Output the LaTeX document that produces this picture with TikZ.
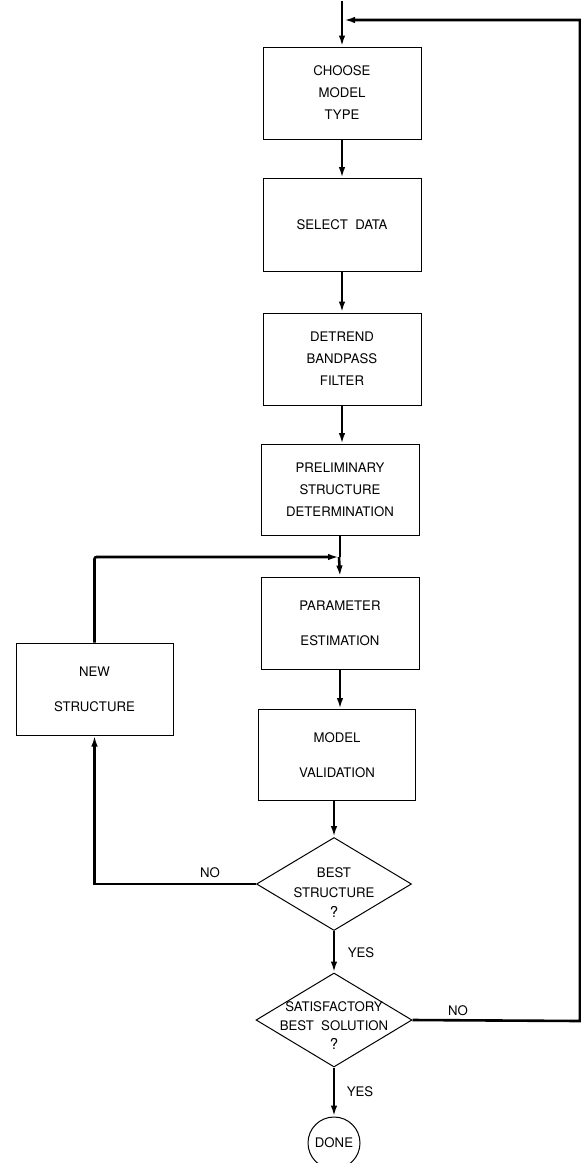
\documentclass[tikz,border=0pt]{standalone}
\usepackage{fontspec}
\setmainfont{TeX Gyre Heros}
\usetikzlibrary{shapes.geometric,arrows.meta}
\begin{document}
\begin{tikzpicture}[x=1pt,y=-1pt,
  box/.style={draw,line width=1pt,rectangle,minimum width=158pt,minimum height=92pt,inner sep=0pt,align=center},
  three/.style={font=\fontsize{13.2}{22}\selectfont},
  two/.style={font=\fontsize{13.2}{35}\selectfont},
  dia/.style={draw,line width=1pt,diamond,minimum width=155pt,minimum height=93pt,inner sep=0pt},
  dtxt/.style={align=center,inner sep=0pt,font=\fontsize{13.2}{20}\selectfont},
  lbl/.style={inner sep=0pt,font=\fontsize{13.2}{15}\selectfont},
  flow/.style={line width=2.6pt},
  arr/.style={line width=2.6pt,-{Latex[length=11pt,width=6.5pt]}}
]
\useasboundingbox (0,0) rectangle (581,1163);

\node[box,three] (b1) at (342,93) {CHOOSE\\MODEL\\TYPE};
\node[box,three,minimum height=93pt] (b2) at (342,225) {SELECT\ \ DATA};
\node[box,three] (b3) at (342,359) {DETREND\\BANDPASS\\FILTER};
\node[box,three,minimum height=91pt] (b4) at (340,490) {PRELIMINARY\\STRUCTURE\\DETERMINATION};
\node[box,two] (b5) at (340,623) {PARAMETER\\ESTIMATION};
\node[box,two,minimum width=157pt,minimum height=91pt] (b6) at (337,755) {MODEL\\VALIDATION};
\node[box,two,minimum width=157pt] (ns) at (94.5,689) {NEW\\STRUCTURE};

\node[dia] (d1) at (334,884) {};
\node[dtxt] (t1) at (334,893) {BEST\\STRUCTURE\\{\fontsize{15}{15}\selectfont ?}};
\node[dia,minimum width=156pt,minimum height=94pt] (d2) at (334,1020) {};
\node[dtxt,font=\fontsize{13.2}{19}\selectfont] (t2) at (334,1026) {SATISFACTORY\\BEST\ \ SOLUTION\\{\fontsize{15}{15}\selectfont ?}};
\node[draw,line width=1pt,circle,minimum size=52pt,inner sep=0pt,font=\fontsize{13.2}{15}\selectfont] (done) at (334,1143) {DONE};

\node[lbl] (no1) at (210,873) {NO};
\node[lbl] (yes1) at (361,953) {YES};
\node[lbl] (no2) at (458,1011) {NO};
\node[lbl] (yes2) at (360,1092) {YES};

\coordinate (top) at (342,1);
\coordinate (fbR) at (580,20);
\coordinate (fbL) at (344,20);
\coordinate (rb) at (580,1021);
\coordinate (join) at (339,557);

\draw[arr] (top) -- (b1.north);
\draw[arr] (b1.south) -- (b2.north);
\draw[arr] (b2.south) -- (b3.north);
\draw[arr] (b3.south) -- (b3.south |- b4.north);
\draw[flow] (b4.south) -- (b4.south |- join);
\draw[arr] (join) -- (b5.north);
\draw[arr] (b5.south) -- (b5.south |- b6.north);
\draw[arr] (d1.north |- b6.south) -- (d1.north);
\draw[arr] (d1.south) -- (d2.north);
\draw[arr] (d2.south) -- (done.north);

\draw[arr] (d2.east) -- (rb) -- (fbR) -- (fbL);
\draw[arr] (d1.west) -| (ns.south);
\draw[arr,rounded corners=2pt] (ns.north) |- (join);
\end{tikzpicture}
\end{document}
